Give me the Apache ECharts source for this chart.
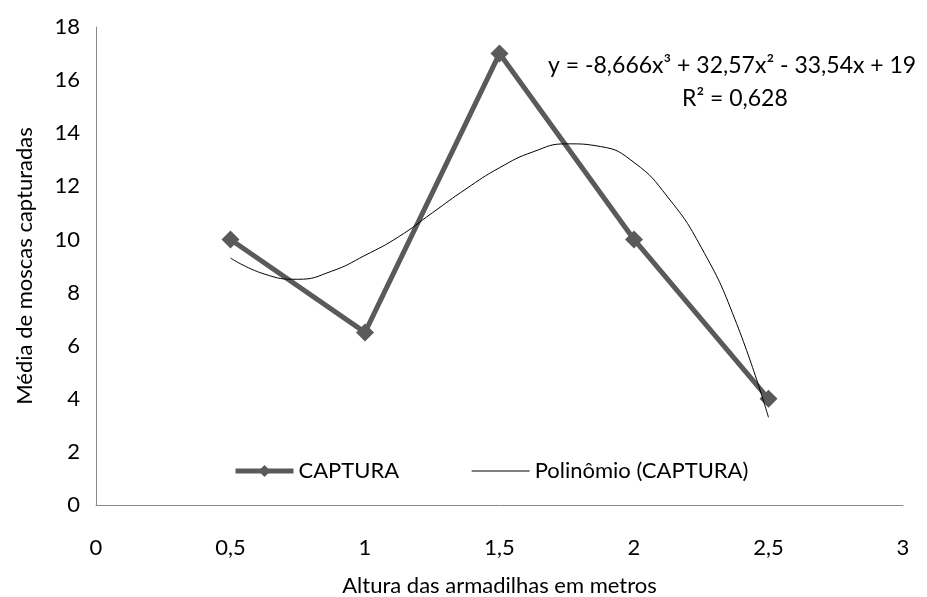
<!DOCTYPE html>
<html><head><meta charset="utf-8">
<script src="https://cdn.jsdelivr.net/npm/echarts@6/dist/echarts.min.js"></script>
<style>html,body{margin:0;padding:0;background:#fff}#c{width:927px;height:597px}</style>
</head><body><div id="c"></div>
<script>
const heights = [0.5, 1, 1.5, 2, 2.5];
const captura = [10, 6.5, 17, 10, 4];
const trendX = [0.5, 0.625, 0.75, 0.875, 1.0, 1.125, 1.25, 1.375, 1.5, 1.625, 1.75, 1.875, 2.0, 2.125, 2.25, 2.375, 2.5];
const trendY = [9.3, 8.7, 8.5, 8.8, 9.4, 10.1, 11.0, 11.9, 12.7, 13.3, 13.6, 13.5, 12.9, 11.6, 9.7, 7.0, 3.3];
const xTicks = [0, 0.5, 1, 1.5, 2, 2.5, 3];
const yTicks = [0, 2, 4, 6, 8, 10, 12, 14, 16, 18];
const equation = 'y = -8,666x³ + 32,57x² - 33,54x + 19';
const r2 = 'R² = 0,628';

const FONT = 'Lato';
const FS = 22;
const chart = echarts.init(document.getElementById('c'));
chart.setOption({
  animation: false,
  textStyle: {fontFamily: FONT},
  grid: {left: 96, right: 24, top: 27, bottom: 92, outerBoundsMode: 'none', containLabel: false},
  legend: {
    left: 228, top: 455, itemGap: 72, itemWidth: 58, itemHeight: 15,
    textStyle: {fontFamily: FONT, fontSize: FS, color: '#000'},
    data: [
      {name: 'CAPTURA', lineStyle: {width: 5, color: '#5a5a5a'}},
      {name: 'Polinômio (CAPTURA)', itemStyle: {opacity: 0}, lineStyle: {width: 1, color: '#000'}}
    ]
  },
  xAxis: {
    type: 'value', min: 0, max: 3, interval: 0.5,
    name: 'Altura das armadilhas em metros', nameLocation: 'middle', nameGap: 70,
    nameTextStyle: {fontFamily: FONT, fontSize: FS, color: '#000'},
    axisLine: {show: true, lineStyle: {color: '#898989', width: 1}},
    axisTick: {show: false}, splitLine: {show: false},
    axisLabel: {margin: 32, fontFamily: FONT, fontSize: FS, color: '#000',
      formatter: v => xTicks.includes(v) ? String(v).replace('.', ',') : ''}
  },
  yAxis: {
    type: 'value', min: 0, max: 18, interval: 2,
    name: 'Média de moscas capturadas', nameLocation: 'middle', nameGap: 60,
    nameTextStyle: {fontFamily: FONT, fontSize: FS, color: '#000'},
    axisLine: {show: true, lineStyle: {color: '#898989', width: 1}},
    axisTick: {show: false}, splitLine: {show: false},
    axisLabel: {margin: 16, fontFamily: FONT, fontSize: FS, color: '#000',
      formatter: v => yTicks.includes(v) ? String(v) : ''}
  },
  graphic: [
    {type: 'text', left: 548, top: 54, style: {text: equation, font: '23px ' + FONT, fill: '#000'}},
    {type: 'text', left: 682, top: 87, style: {text: r2, font: '23px ' + FONT, fill: '#000'}}
  ],
  series: [
    {
      name: 'CAPTURA', type: 'line',
      data: heights.map((h, i) => [h, captura[i]]),
      symbol: 'diamond', symbolSize: 18,
      lineStyle: {color: '#5a5a5a', width: 5},
      itemStyle: {color: '#5a5a5a'}, z: 2
    },
    {
      name: 'Polinômio (CAPTURA)', type: 'line', smooth: 0.5,
      data: trendX.map((h, i) => [h, trendY[i]]),
      symbol: 'none',
      lineStyle: {color: '#000', width: 1},
      itemStyle: {color: '#000'}, z: 3
    }
  ]
});
</script></body></html>
